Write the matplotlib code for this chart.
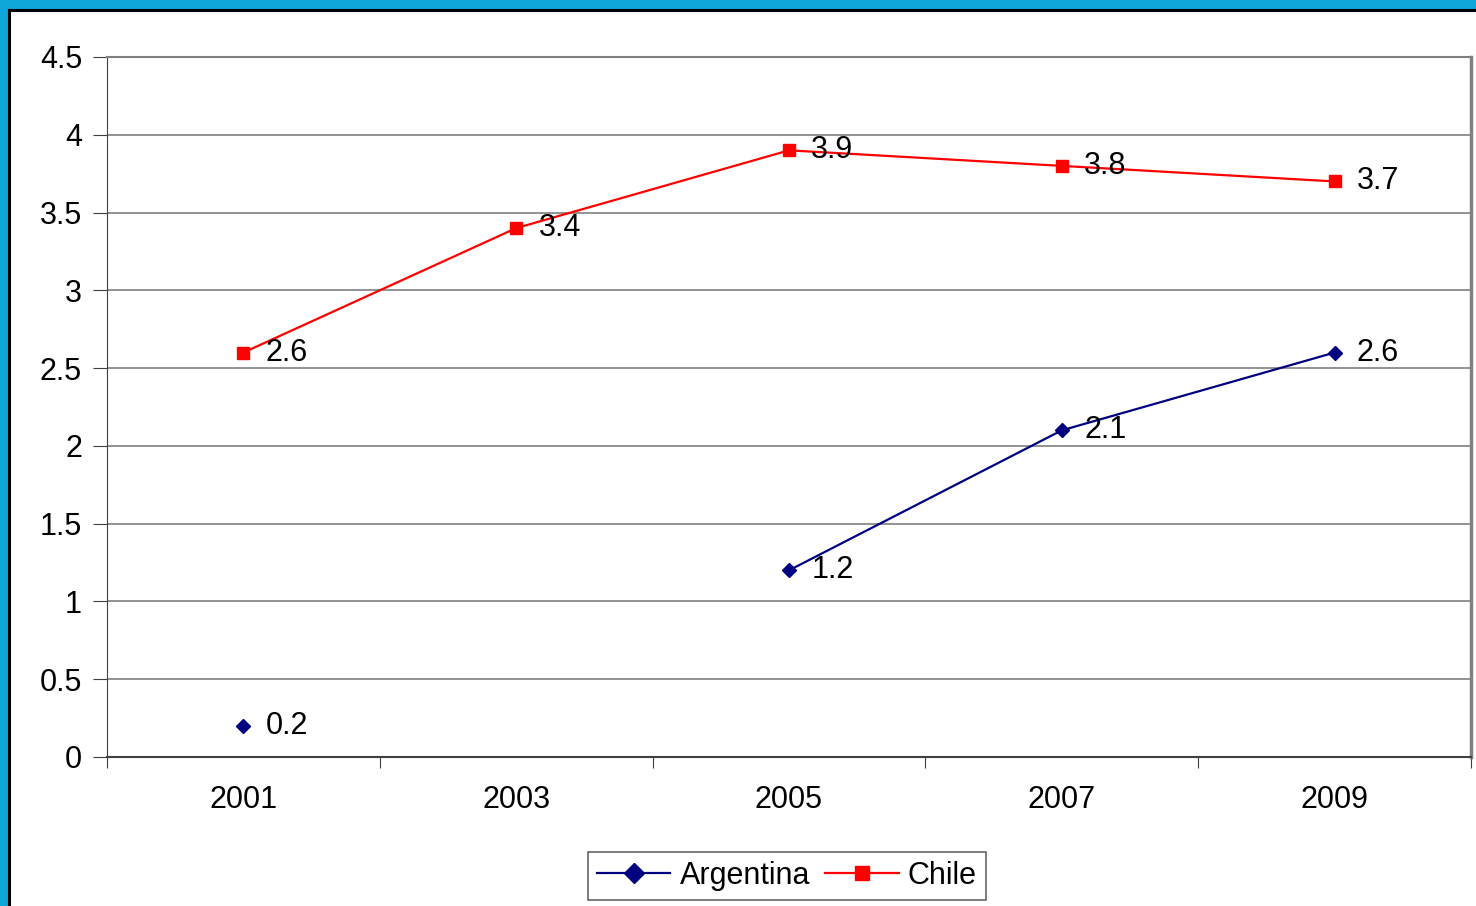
import numpy as np
import matplotlib.pyplot as plt
from matplotlib.patches import Rectangle
from matplotlib.lines import Line2D

years = ['2001', '2003', '2005', '2007', '2009']
argentina = [0.2, np.nan, 1.2, 2.1, 2.6]
chile = [2.6, 3.4, 3.9, 3.8, 3.7]

plt.rcParams['font.family'] = ['Liberation Sans', 'DejaVu Sans']

W, H = 1476, 906
fig = plt.figure(figsize=(W / 100, H / 100), dpi=100)
ax = fig.add_axes([107 / W, 1 - 757 / H, (1471 - 107) / W, (757 - 57) / H])

# slide frame (blue band + black edge)
fig.patches.append(Rectangle((0, 1 - 9 / H), 1, 9 / H, transform=fig.transFigure,
                             facecolor='#0ea5d8', edgecolor='none', zorder=0))
fig.patches.append(Rectangle((0, 0), 8 / W, 1, transform=fig.transFigure,
                             facecolor='#0ea5d8', edgecolor='none', zorder=0))
fig.lines.append(Line2D([9 / W, 1], [1 - 10 / H, 1 - 10 / H], transform=fig.transFigure,
                        color='black', lw=2.2))
fig.lines.append(Line2D([9 / W, 9 / W], [0, 1 - 10 / H], transform=fig.transFigure,
                        color='black', lw=2.2))

x = np.arange(len(years))
ax.plot(x, argentina, color='#000080', marker='D', markersize=7.5, lw=1.6, label='Argentina')
ax.plot(x, chile, color='#ff0000', marker='s', markersize=8, lw=1.6, label='Chile')

for xi, v in zip(x, argentina):
    if not np.isnan(v):
        ax.annotate(f'{v:g}', (xi, v), xytext=(16, 0), textcoords='offset points',
                    va='center', ha='left', fontsize=22)
for xi, v in zip(x, chile):
    ax.annotate(f'{v:g}', (xi, v), xytext=(16, 0), textcoords='offset points',
                va='center', ha='left', fontsize=22)

ax.set_xlim(-0.5, len(years) - 0.5)
ax.set_ylim(0, 4.5)
ax.set_yticks(np.arange(0, 4.51, 0.5))
ax.set_yticklabels(['0', '0.5', '1', '1.5', '2', '2.5', '3', '3.5', '4', '4.5'])
ax.yaxis.grid(True, color='#808080', lw=1.2)
ax.set_axisbelow(True)

ax.set_xticks(np.arange(-0.5, len(years), 1.0))
ax.set_xticklabels([])
ax.set_xticks(x, minor=True)
ax.set_xticklabels(years, minor=True)
ax.tick_params(axis='x', which='minor', length=0, pad=20, labelsize=22)
ax.tick_params(axis='x', which='major', length=8, direction='out', color='#404040')
ax.tick_params(axis='y', length=10, direction='out', pad=8, labelsize=22, color='#404040')

ax.spines['left'].set_color('#404040')
ax.spines['bottom'].set_color('#404040')
ax.spines['bottom'].set_linewidth(1.5)
ax.spines['top'].set_color('#808080')
ax.spines['top'].set_linewidth(1.5)
ax.spines['right'].set_color('#808080')
ax.spines['right'].set_linewidth(2.5)

leg = ax.legend(loc='center', bbox_to_anchor=(787 / W, 1 - 876 / H), bbox_transform=fig.transFigure,
                ncol=2, fontsize=22, frameon=True, fancybox=False, edgecolor='#404040',
                handlelength=2.4, columnspacing=0.5, handletextpad=0.3, borderpad=0.3,
                markerscale=1.3)
leg.get_frame().set_linewidth(1.2)

fig.savefig('out.png', dpi=100)
